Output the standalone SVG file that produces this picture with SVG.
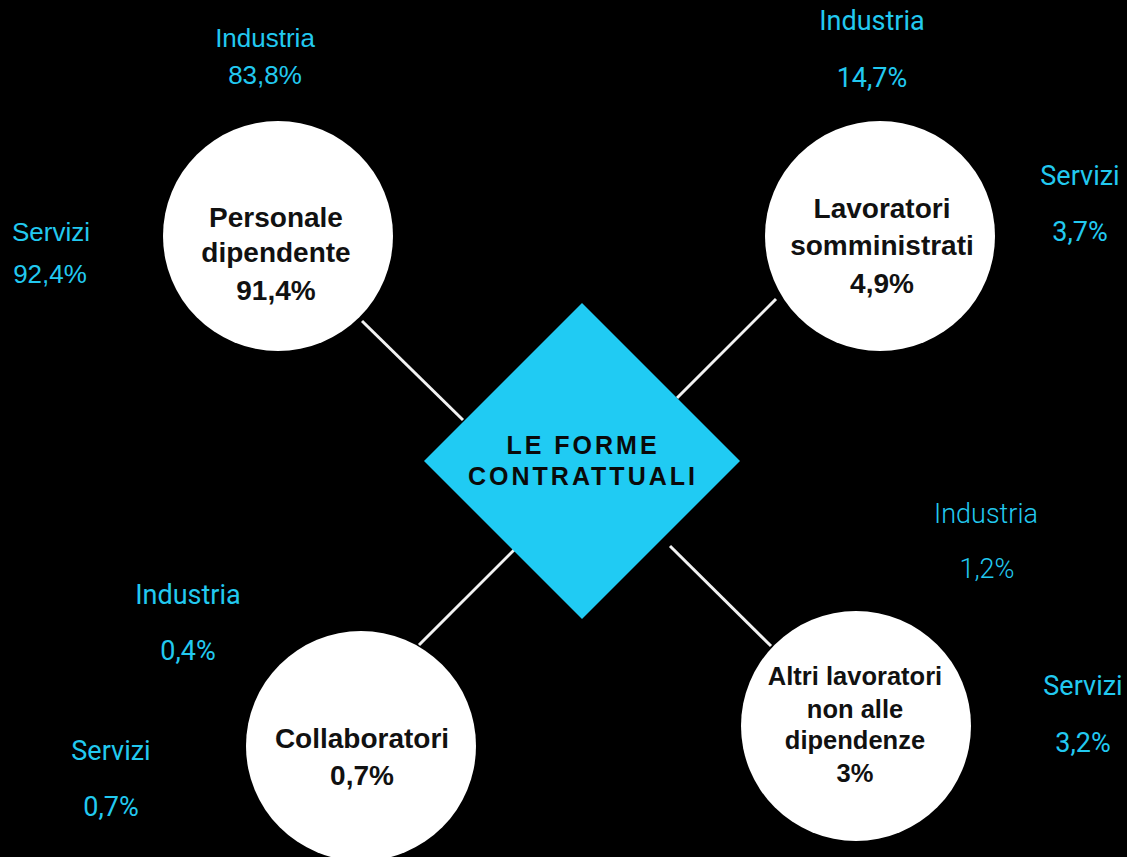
<svg xmlns="http://www.w3.org/2000/svg" width="1127" height="857" viewBox="0 0 1127 857">
<style>
.node{fill:#ffffff}
.nt{font-family:"Liberation Sans",Arial,sans-serif;font-weight:bold;font-size:28px;fill:#111111;text-anchor:middle}
.nt.sm{font-size:25.5px}
.la{font-family:"Liberation Sans",Arial,sans-serif;font-size:26px;fill:#22c9f0;text-anchor:middle}
.lr{font-family:Roboto,"Liberation Sans",sans-serif;font-size:27px;fill:#22c9f0;text-anchor:middle}
.ll{font-family:Roboto,"Liberation Sans",sans-serif;font-weight:300;font-size:27px;fill:#22c9f0;text-anchor:middle}
.conn line{stroke:#f2f2f2;stroke-width:3}
</style>
<rect width="1127" height="857" fill="#000000"/>
<g id="connectors" class="conn">
<line x1="362" y1="321" x2="463" y2="420"/>
<line x1="776" y1="299" x2="677" y2="398"/>
<line x1="517" y1="547" x2="419" y2="645"/>
<line x1="670" y1="546" x2="771" y2="646"/>
</g>
<g id="center">
<polygon points="582,303 740,461 582,619 424,461" fill="#20cbf3"/>
<text x="583" y="454" font-family="Liberation Sans,Arial,sans-serif" font-weight="bold" font-size="25" fill="#0a0a0a" text-anchor="middle" letter-spacing="3">LE FORME</text>
<text x="583" y="485" font-family="Liberation Sans,Arial,sans-serif" font-weight="bold" font-size="25" fill="#0a0a0a" text-anchor="middle" letter-spacing="3">CONTRATTUALI</text>
</g>
<g id="personale">
<circle class="node" cx="278" cy="236" r="115"/>
<text class="nt" x="276" y="227">Personale</text>
<text class="nt" x="276" y="262">dipendente</text>
<text class="nt" x="276" y="300">91,4%</text>
</g>
<g id="lavoratori">
<circle class="node" cx="880" cy="236" r="115"/>
<text class="nt" x="882" y="218">Lavoratori</text>
<text class="nt" x="882" y="255">somministrati</text>
<text class="nt" x="882" y="293">4,9%</text>
</g>
<g id="collaboratori">
<circle class="node" cx="361" cy="746" r="115"/>
<text class="nt" x="362" y="748">Collaboratori</text>
<text class="nt" x="362" y="785">0,7%</text>
</g>
<g id="altri">
<circle class="node" cx="856" cy="726" r="115"/>
<text class="nt sm" x="855" y="685">Altri lavoratori</text>
<text class="nt sm" x="855" y="718">non alle</text>
<text class="nt sm" x="855" y="749">dipendenze</text>
<text class="nt sm" x="855" y="782">3%</text>
</g>
<g id="labels-personale">
<text class="la" x="265" y="47">Industria</text>
<text class="la" x="265" y="84">83,8%</text>
<text class="la" x="51" y="241">Servizi</text>
<text class="la" x="50" y="283">92,4%</text>
</g>
<g id="labels-lavoratori">
<text class="lr" x="872" y="30">Industria</text>
<text class="lr" x="872" y="87">14,7%</text>
<text class="lr" x="1080" y="185">Servizi</text>
<text class="lr" x="1080" y="241">3,7%</text>
</g>
<g id="labels-collaboratori">
<text class="lr" x="188" y="604">Industria</text>
<text class="lr" x="188" y="660">0,4%</text>
<text class="lr" x="111" y="760">Servizi</text>
<text class="lr" x="111" y="816">0,7%</text>
</g>
<g id="labels-altri">
<text class="ll" x="986" y="523">Industria</text>
<text class="ll" x="987" y="578">1,2%</text>
<text class="lr" x="1083" y="695">Servizi</text>
<text class="lr" x="1083" y="752">3,2%</text>
</g>
</svg>
